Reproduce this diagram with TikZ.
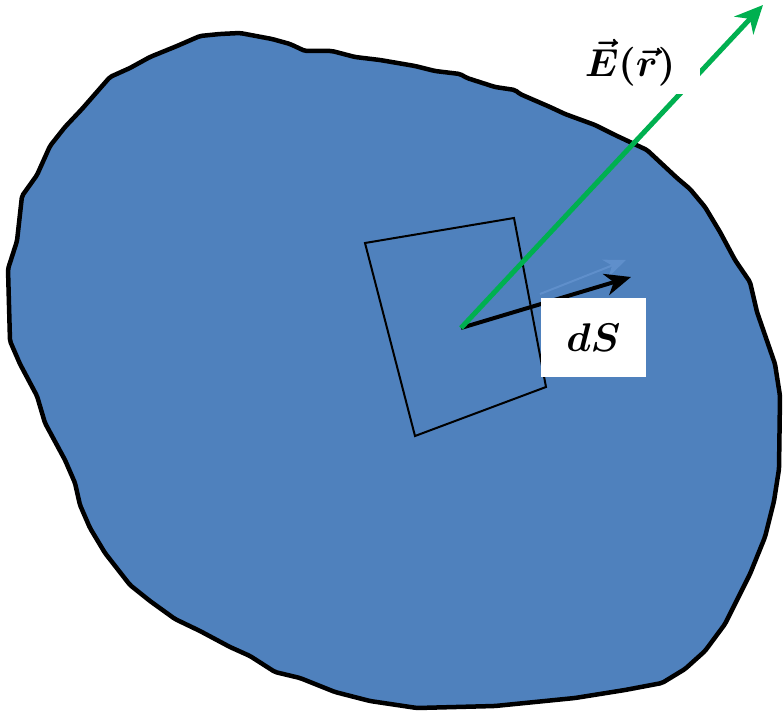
\documentclass[tikz,border=0pt]{standalone}
\usepackage{graphicx}
\usetikzlibrary{arrows.meta}
\definecolor{blobblue}{HTML}{4F81BD}
\definecolor{ghostblue}{HTML}{5F8FCB}
\definecolor{fieldgreen}{HTML}{00B050}
\tikzset{
  blob/.style={draw=black, line width=4.5pt, fill=blobblue, line join=round, rounded corners=2pt},
  patch/.style={draw=black, line width=2pt, line join=miter},
  fieldarrow/.style={draw=fieldgreen, line width=5pt, -{Stealth[length=28pt, width=26pt, inset=9pt]}},
  normalarrow/.style={draw=black, line width=4pt, -{Stealth[length=26pt, width=22pt, inset=8pt]}},
  ghostarrow/.style={draw=ghostblue, line width=2pt, -{Stealth[length=22pt, width=18pt, inset=7pt]}},
  labelbox/.style={fill=white, inner sep=0pt, text depth=0pt}
}
\begin{document}
\begin{tikzpicture}[x=1pt, y=-1pt]
\useasboundingbox (0,0) rectangle (784,714);
% surface
\draw[blob] (240,33) -- (272,39) -- (290,44) -- (305,51) -- (332,51) -- (355,57) -- (380,60)
 -- (415,66) -- (435,71) -- (460,74) -- (467,78) -- (495,87) -- (515,90) -- (520,94)
 -- (550,107) -- (565,114) -- (595,125) -- (615,135) -- (647,150) -- (677,178) -- (690,189)
 -- (705,207) -- (720,232) -- (735,260) -- (750,282) -- (757,312) -- (775,364) -- (780,396)
 -- (779,469) -- (774,501) -- (765,537) -- (750,574) -- (725,624) -- (705,651) -- (685,669)
 -- (662,683) -- (625,690) -- (575,698) -- (495,706) -- (417,708) -- (370,701) -- (335,692)
 -- (300,678) -- (275,672) -- (250,656) -- (230,647) -- (200,631) -- (175,619) -- (150,601)
 -- (130,585) -- (105,553) -- (90,528) -- (80,505) -- (75,483) -- (65,460) -- (45,423)
 -- (37,396) -- (20,364) -- (10,341) -- (8,269) -- (17,241) -- (22,196) -- (37,175)
 -- (50,146) -- (65,127) -- (82,109) -- (110,77) -- (130,68) -- (150,57) -- (177,46)
 -- (200,36) -- (220,34) -- cycle;
% surface element
\coordinate (p1) at (365,243);
\coordinate (p2) at (514,218);
\coordinate (p3) at (546,387);
\coordinate (p4) at (415,436);
\draw[patch] (p1) -- (p2) -- (p3) -- (p4) -- cycle;
% vectors
\coordinate (o) at (461,328);
\coordinate (gs) at (540,294);
\coordinate (ge) at (626,260);
\coordinate (ne) at (631,277);
\coordinate (fe) at (763,5);
\draw[ghostarrow] (gs) -- (ge);
\draw[normalarrow] (o) -- (ne);
\draw[fieldarrow] (o) -- (fe);
% labels
\node[labelbox, minimum width=105pt, minimum height=79pt] (ds) at (593.5,337.5) {\scalebox{4}{\boldmath$dS$}};
\node[labelbox, minimum width=140pt, minimum height=72pt] (E) at (630,58) {\scalebox{3.9}{\boldmath$\vec{E}(\vec{r})$}};
\end{tikzpicture}
\end{document}
